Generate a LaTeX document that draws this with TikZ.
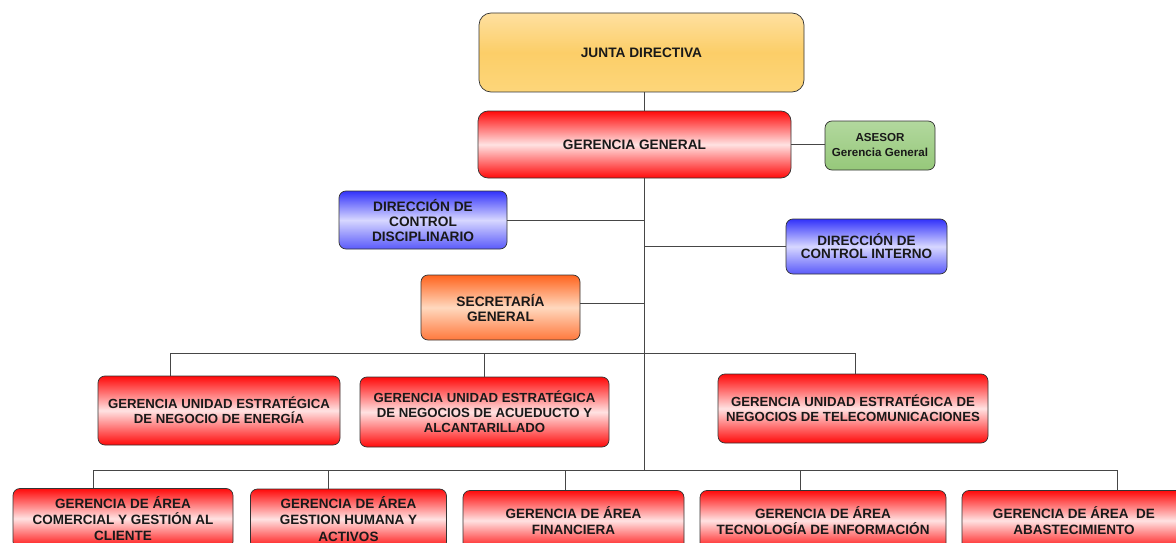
\documentclass[tikz,border=0pt]{standalone}
\usepackage{fontspec}
\setmainfont{Liberation Sans}
\definecolor{rtop}{RGB}{255,10,10}
\definecolor{rmid}{RGB}{255,226,226}
\definecolor{jtop}{RGB}{254,224,160}
\definecolor{jmid}{RGB}{252,206,104}
\definecolor{jbot}{RGB}{253,214,122}
\definecolor{btop}{RGB}{50,50,250}
\definecolor{bmid}{RGB}{215,215,255}
\definecolor{bbot}{RGB}{90,90,250}
\definecolor{otop}{RGB}{255,100,30}
\definecolor{omid}{RGB}{255,216,190}
\definecolor{obot}{RGB}{255,120,60}
\definecolor{gtop}{RGB}{178,216,158}
\definecolor{gbot}{RGB}{150,200,122}
\definecolor{linec}{RGB}{70,70,70}
\definecolor{txt}{RGB}{25,25,25}
\begin{document}
\begin{tikzpicture}[x=1pt,y=-1pt,
  box/.style={draw=black!80, line width=0.7pt, rounded corners=7pt, align=center, inner sep=0pt, text=txt},
  redbox/.style={box, top color=rtop, bottom color=rtop, middle color=rmid},
  bluebox/.style={box, top color=btop, bottom color=bbot, middle color=bmid},
  orangebox/.style={box, top color=otop, bottom color=obot, middle color=omid},
  greenbox/.style={box, top color=gtop, bottom color=gbot},
  yellowbox/.style={box, top color=jtop, bottom color=jbot, middle color=jmid},
  bigfont/.style={font=\fontsize{13.7}{15}\selectfont\bfseries},
  unitfont/.style={font=\fontsize{13.2}{14.8}\selectfont\bfseries},
  areafont/.style={font=\fontsize{13.5}{16.2}\selectfont\bfseries},
  smallfont/.style={font=\fontsize{11.6}{15}\selectfont\bfseries},
  conn/.style={draw=linec, line width=0.9pt}
]
\useasboundingbox (0,0) rectangle (1176,543);
\clip (0,0) rectangle (1176,543);

% top level
\node[yellowbox, bigfont, rounded corners=12pt, minimum width=325pt, minimum height=79pt] (junta) at (641.5,52.5) {JUNTA DIRECTIVA};
\node[redbox, bigfont, rounded corners=10pt, minimum width=313pt, minimum height=67pt] (gg) at (634.5,144.5) {GERENCIA GENERAL};
\node[greenbox, smallfont, minimum width=110pt, minimum height=49pt] (asesor) at (880,145.5) {ASESOR\\Gerencia General};

% staff
\node[bluebox, bigfont, minimum width=168pt, minimum height=58pt] (disc) at (423,220) {DIRECCIÓN DE\\CONTROL\\DISCIPLINARIO};
\node[bluebox, font=\fontsize{13.5}{13}\selectfont\bfseries, minimum width=161pt, minimum height=55pt] (interno) at (866.5,246.5) {DIRECCIÓN DE\\CONTROL INTERNO};
\node[orangebox, bigfont, minimum width=159pt, minimum height=65pt] (secr) at (500.5,307.5) {SECRETARÍA\\GENERAL};

% strategic units
\node[redbox, unitfont, minimum width=242pt, minimum height=69pt] (energia) at (219,410.5) {GERENCIA UNIDAD ESTRATÉGICA\\DE NEGOCIO DE ENERGÍA};
\node[redbox, unitfont, minimum width=249pt, minimum height=70pt] (acued) at (484.5,412) {GERENCIA UNIDAD ESTRATÉGICA\\DE NEGOCIOS DE ACUEDUCTO Y\\ALCANTARILLADO};
\node[redbox, unitfont, minimum width=270pt, minimum height=69pt] (telecom) at (853,408.5) {GERENCIA UNIDAD ESTRATÉGICA DE\\NEGOCIOS DE TELECOMUNICACIONES};

% area managements
\node[redbox, areafont, minimum width=220pt, minimum height=60pt] (comercial) at (123,518.5) {GERENCIA DE ÁREA\\COMERCIAL Y GESTIÓN AL\\CLIENTE};
\node[redbox, areafont, minimum width=196pt, minimum height=60pt] (humana) at (348.5,519) {GERENCIA DE ÁREA\\GESTION HUMANA Y\\ACTIVOS};
\node[redbox, areafont, minimum width=221pt, minimum height=60pt] (financiera) at (573.5,520.5) {GERENCIA DE ÁREA\\FINANCIERA};
\node[redbox, areafont, minimum width=246pt, minimum height=60pt] (tecnologia) at (823,520.5) {GERENCIA DE ÁREA\\TECNOLOGÍA DE INFORMACIÓN};
\node[redbox, areafont, minimum width=224pt, minimum height=60pt] (abast) at (1074,520.5) {GERENCIA DE ÁREA \ DE\\ABASTECIMIENTO};

% connectors
\coordinate (tx) at (644,0);
\coordinate (u1) at (170,353);
\coordinate (u3) at (855,353);
\coordinate (b1) at (93,470.5);
\coordinate (b2) at (328.5,470.5);
\coordinate (b3) at (565,470.5);
\coordinate (b4) at (800,470.5);
\coordinate (b5) at (1117,470.5);
\coordinate (sy) at (0,303);

\draw[conn] (junta.south -| tx) -- (gg.north -| tx);
\draw[conn] (gg.east) -- (gg.east -| asesor.west);
\draw[conn] (gg.south -| tx) -- (tx |- b1);
\draw[conn] (disc.east) -- (disc.east -| tx);
\draw[conn] (interno.west) -- (interno.west -| tx);
\draw[conn] (secr.east |- sy) -- (tx |- sy);

\draw[conn] (energia.north -| u1) -- (u1) -- (u3) -- (telecom.north -| u3);
\draw[conn] (acued.north) -- (acued.north |- u1);

\draw[conn] (comercial.north -| b1) -- (b1) -- (b5) -- (abast.north -| b5);
\draw[conn] (humana.north -| b2) -- (b2);
\draw[conn] (financiera.north -| b3) -- (b3);
\draw[conn] (tecnologia.north -| b4) -- (b4);
\end{tikzpicture}
\end{document}
